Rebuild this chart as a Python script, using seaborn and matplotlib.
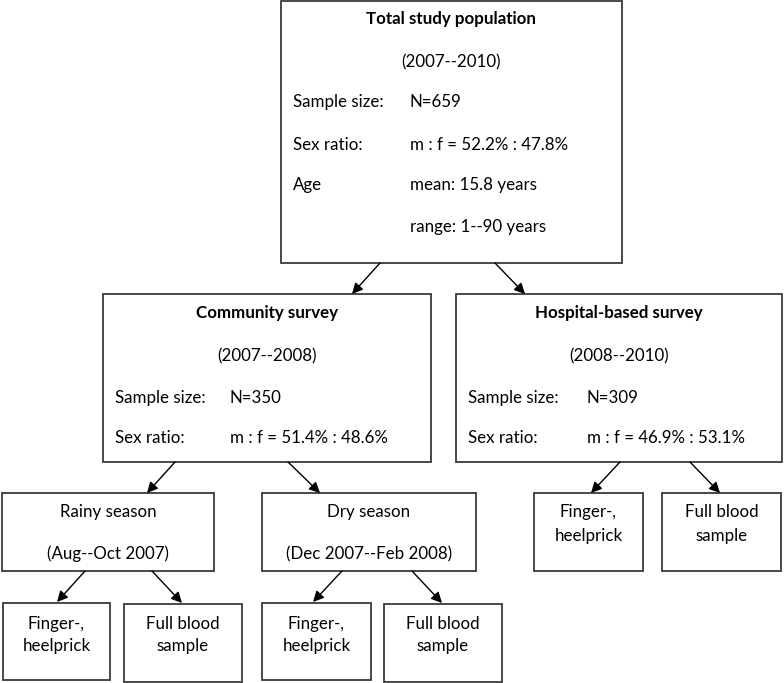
import matplotlib
matplotlib.use("Agg")
import matplotlib.pyplot as plt
import seaborn as sns
from matplotlib.patches import Rectangle

# text content of the flow chart
total_title = "Total study population"
total_period = "(2007--2010)"
total_rows = [("Sample size:", "N=659"),
              ("Sex ratio:", "m : f = 52.2% : 47.8%"),
              ("Age", "mean: 15.8 years"),
              ("", "range: 1--90 years")]

community_title = "Community survey"
community_period = "(2007--2008)"
community_rows = [("Sample size:", "N=350"),
                  ("Sex ratio:", "m : f = 51.4% : 48.6%")]

hospital_title = "Hospital-based survey"
hospital_period = "(2008--2010)"
hospital_rows = [("Sample size:", "N=309"),
                 ("Sex ratio:", "m : f = 46.9% : 53.1%")]

season_labels = ["Rainy season", "Dry season"]
season_periods = ["(Aug--Oct 2007)", "(Dec 2007--Feb 2008)"]
sample_labels = ["Finger-,\nheelprick", "Full blood\nsample"]

# layout in pixels (x0, y0, x1, y1), y grows downwards
W, H = 784, 683
box_total = (281, 1, 622, 263)
box_comm = (103, 294, 431, 462)
box_hosp = (456, 294, 782, 462)
box_seasons = [(2, 493, 214, 571), (262, 493, 476, 571)]
box_hosp_samples = [(534, 493, 643, 571), (662, 493, 781, 571)]
box_season_samples = [[(3, 603, 110, 680), (124, 604, 242, 682)],
                      [(262, 603, 371, 680), (384, 604, 502, 682)]]

arrows = [((380, 263), (352, 294)), ((495, 263), (525, 294)),
          ((175, 462), (147, 493)), ((288, 462), (320, 493)),
          ((620, 462), (591, 493)), ((690, 462), (720, 493)),
          ((85, 571), (57, 602)), ((152, 571), (182, 603)),
          ((342, 571), (313, 602)), ((412, 571), (442, 603))]

sns.set_theme(style="white")
plt.rcParams["font.family"] = ["Lato", "DejaVu Sans"]
FS = 12.2

fig = plt.figure(figsize=(W / 100, H / 100), dpi=100)
ax = fig.add_axes([0, 0, 1, 1])
ax.set_xlim(0, W)
ax.set_ylim(H, 0)
ax.axis("off")


def draw_box(b):
    ax.add_patch(Rectangle((b[0], b[1]), b[2] - b[0], b[3] - b[1],
                           fill=False, edgecolor="#3a3a3a", lw=1.3))


def cx(b):
    return (b[0] + b[2]) / 2


def header_box(b, title, period, rows, y_title, y_period, y_rows, x_lab, x_val):
    draw_box(b)
    ax.text(cx(b), y_title, title, ha="center", va="center",
            fontsize=FS, fontweight="bold", color="black")
    ax.text(cx(b), y_period, period, ha="center", va="center",
            fontsize=FS, color="black")
    for (lab, val), y in zip(rows, y_rows):
        ax.text(x_lab, y, lab, ha="left", va="center", fontsize=FS, color="black")
        ax.text(x_val, y, val, ha="left", va="center", fontsize=FS, color="black")


header_box(box_total, total_title, total_period, total_rows,
           19, 62, [102, 145, 185, 227], 293, 410)
header_box(box_comm, community_title, community_period, community_rows,
           313, 356, [398, 438], 115, 230)
header_box(box_hosp, hospital_title, hospital_period, hospital_rows,
           313, 356, [398, 438], 468, 587)

for b, lab, per in zip(box_seasons, season_labels, season_periods):
    draw_box(b)
    ax.text(cx(b), 512, lab, ha="center", va="center", fontsize=FS, color="black")
    ax.text(cx(b), 554, per, ha="center", va="center", fontsize=FS, color="black")

for b, lab in zip(box_hosp_samples, sample_labels):
    draw_box(b)
    ax.text(cx(b), 524, lab, ha="center", va="center", fontsize=FS,
            color="black", linespacing=1.6)

for pair in box_season_samples:
    for b, lab in zip(pair, sample_labels):
        draw_box(b)
        ax.text(cx(b), 635, lab, ha="center", va="center", fontsize=FS,
                color="black", linespacing=1.5)

for start, end in arrows:
    ax.annotate("", xy=end, xytext=start,
                arrowprops=dict(arrowstyle="-|>", color="black", lw=1.0,
                                mutation_scale=16, shrinkA=0, shrinkB=0))

fig.savefig("out.png", dpi=100)
